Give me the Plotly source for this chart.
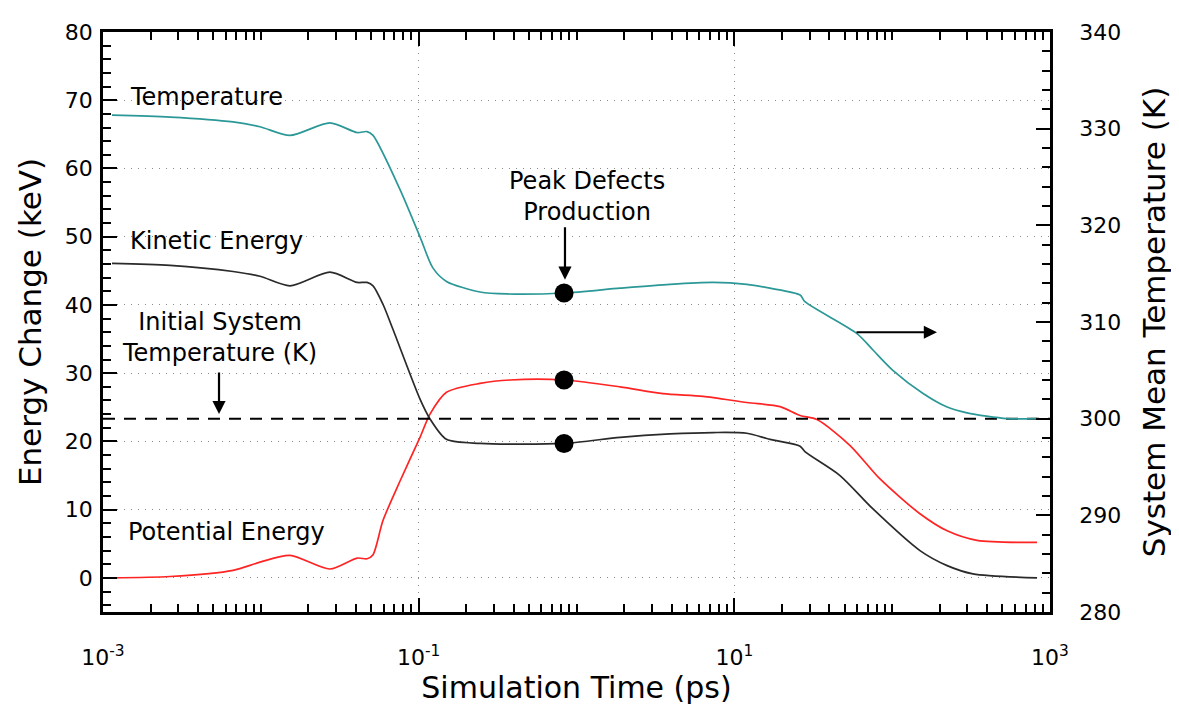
import plotly.graph_objects as go

# Temperature (right axis, K)
t_temp = [0.00114, 0.00266, 0.00667, 0.00988, 0.0153, 0.0274, 0.0407, 0.0471, 0.0514, 0.0762,
          0.102, 0.123, 0.150, 0.245, 0.363, 0.834, 1.89, 3.91, 7.33, 12.0, 16.8, 26.1, 28.0,
          59.9, 75.6, 101, 157, 223, 298, 534, 828]
temp = [331.4, 331.2, 330.7, 330.2, 329.3, 330.6, 329.6, 329.7, 329.3, 323.7,
        318.8, 315.6, 314.2, 313.1, 312.9, 313.0, 313.5, 313.9, 314.1, 313.9, 313.5, 312.8, 312.1,
        308.8, 307.1, 305.0, 302.6, 301.2, 300.6, 300.0, 300.0]

# Kinetic energy (left axis, keV)
t_ke = [0.00114, 0.00266, 0.00667, 0.00988, 0.0153, 0.0274, 0.0407, 0.0471, 0.0514, 0.0594,
        0.0688, 0.102, 0.118, 0.150, 0.245, 0.834, 1.89, 3.91, 7.33, 12.0, 16.8, 26.1, 28.0,
        46.7, 75.6, 150, 223, 325, 828]
ke = [46.1, 45.8, 44.9, 44.2, 42.8, 44.8, 43.3, 43.3, 42.8, 40.1,
      36.4, 26.2, 23.3, 20.3, 19.7, 19.7, 20.6, 21.1, 21.3, 21.2, 20.3, 19.3, 18.5,
      15.0, 10.1, 4.0, 1.8, 0.6, 0.0]

# Potential energy (left axis, keV)
t_pe = [0.00114, 0.00266, 0.00667, 0.00988, 0.0153, 0.0274, 0.0407, 0.0471, 0.0514, 0.0594,
        0.0762, 0.102, 0.118, 0.150, 0.245, 0.38, 0.834, 1.89, 3.53, 6.33, 12.0, 19.5, 26.1,
        33.4, 54.1, 83.8, 150, 223, 345, 828]
pe = [0.0, 0.2, 1.1, 2.3, 3.3, 1.3, 2.9, 2.8, 3.4, 8.4,
      14.2, 20.6, 24.0, 27.2, 28.5, 29.0, 29.0, 28.0, 27.0, 26.6, 25.7, 25.1, 23.8,
      23.2, 19.4, 14.5, 9.4, 6.9, 5.5, 5.2]

# initial system temperature (K)
base_t = [0.001, 1000]
base_temp = [300, 300]

# peak defects production markers
peak_t = 0.834
peak_temp = 313.0
peak_pe = 29.0
peak_ke = 19.7

major_t = [1e-3, 1e-1, 1e1, 1e3]
major_lbl = ['10<sup>-3</sup>', '10<sup>-1</sup>', '10<sup>1</sup>', '10<sup>3</sup>']
minor_t = [k * 10.0 ** n for n in range(-3, 3) for k in range(1, 10)]

TEAL = '#2B9897'
RED = '#FF2424'
DARK = '#2A2A2A'
FONT = 'DejaVu Sans'

fig = go.Figure()
fig.add_trace(go.Scatter(x=t_pe, y=pe, mode='lines', line=dict(color=RED, width=1.7, shape='spline', smoothing=0.75),
                         yaxis='y'))
fig.add_trace(go.Scatter(x=t_ke, y=ke, mode='lines', line=dict(color=DARK, width=1.7, shape='spline', smoothing=0.75),
                         yaxis='y'))
fig.add_trace(go.Scatter(x=[peak_t, peak_t], y=[peak_pe, peak_ke], mode='markers',
                         marker=dict(color='black', size=19), yaxis='y'))
fig.add_trace(go.Scatter(x=base_t, y=base_temp, mode='lines', line=dict(color='black', width=2, dash='12px,9px'),
                         yaxis='y2'))
fig.add_trace(go.Scatter(x=t_temp, y=temp, mode='lines', line=dict(color=TEAL, width=1.7, shape='spline', smoothing=0.75),
                         yaxis='y2'))
fig.add_trace(go.Scatter(x=[peak_t], y=[peak_temp], mode='markers', marker=dict(color='black', size=19),
                         yaxis='y2'))

txt = dict(family=FONT, size=24, color='black')
arrow = dict(text='', showarrow=True, arrowhead=2, arrowsize=1.2, arrowwidth=2.2, arrowcolor='black')
ann = [
    dict(x=-2.842, y=70.5, text='Temperature', xanchor='left', showarrow=False, font=txt),
    dict(x=-2.842, y=49.4, text='Kinetic Energy', xanchor='left', showarrow=False, font=txt),
    dict(x=-2.259, y=35.3, text='Initial System<br>Temperature (K)', showarrow=False, font=txt),
    dict(x=-2.854, y=6.7, text='Potential Energy', xanchor='left', showarrow=False, font=txt),
    dict(x=0.0666, y=55.9, text='Peak Defects<br>Production', showarrow=False, font=txt),
    dict(x=-2.265, y=24.0, ax=0, ay=-43, **arrow),
    dict(x=-0.073, y=43.7, ax=0, ay=-54, **arrow),
    dict(x=2.284, y=36.0, ax=-82, ay=0, **arrow),
]

axis_common = dict(ticks='inside', ticklen=14, tickwidth=2, tickcolor='black', showline=True,
                   linewidth=2.5, linecolor='black', zeroline=False, automargin=False,
                   tickfont=dict(family=FONT, size=22, color='black'))

# page body has an 8px margin, so the figure is sized and offset to compensate
fig.update_layout(
    width=1171, height=704,
    margin=dict(l=95, r=129, t=24, b=100, autoexpand=False),
    paper_bgcolor='white', plot_bgcolor='white',
    showlegend=False,
    annotations=ann,
    xaxis=dict(type='log', range=[-3, 3], tickmode='array', tickvals=major_t, ticktext=major_lbl,
               mirror='ticks', showgrid=True, gridcolor='#8a8a8a', gridwidth=1, griddash='1px,6px',
               minor=dict(tickmode='array', tickvals=minor_t, ticks='inside', ticklen=8, tickwidth=2,
                          tickcolor='black', showgrid=False),
               ticklabelstandoff=24,
               title=dict(text='Simulation Time (ps)', font=dict(family=FONT, size=30, color='black'), standoff=0),
               **axis_common),
    yaxis=dict(range=[-5, 80], tick0=0, dtick=10, showgrid=True, gridcolor='#8a8a8a', gridwidth=1,
               griddash='1px,6px',
               minor=dict(dtick=2, ticks='inside', ticklen=8, tickwidth=2, tickcolor='black', showgrid=False),
               ticklabelstandoff=3,
               title=dict(text='Energy Change (keV)', font=dict(family=FONT, size=31, color='black'), standoff=14),
               **axis_common),
    yaxis2=dict(range=[280, 340], tick0=280, dtick=10, overlaying='y', side='right', showgrid=False,
                minor=dict(dtick=2, ticks='inside', ticklen=8, tickwidth=2, tickcolor='black', showgrid=False),
                ticklabelstandoff=22,
                title=dict(text='System Mean Temperature (K)', font=dict(family=FONT, size=31, color='black'),
                           standoff=24),
                **axis_common),
)

fig.write_html('out.html')
